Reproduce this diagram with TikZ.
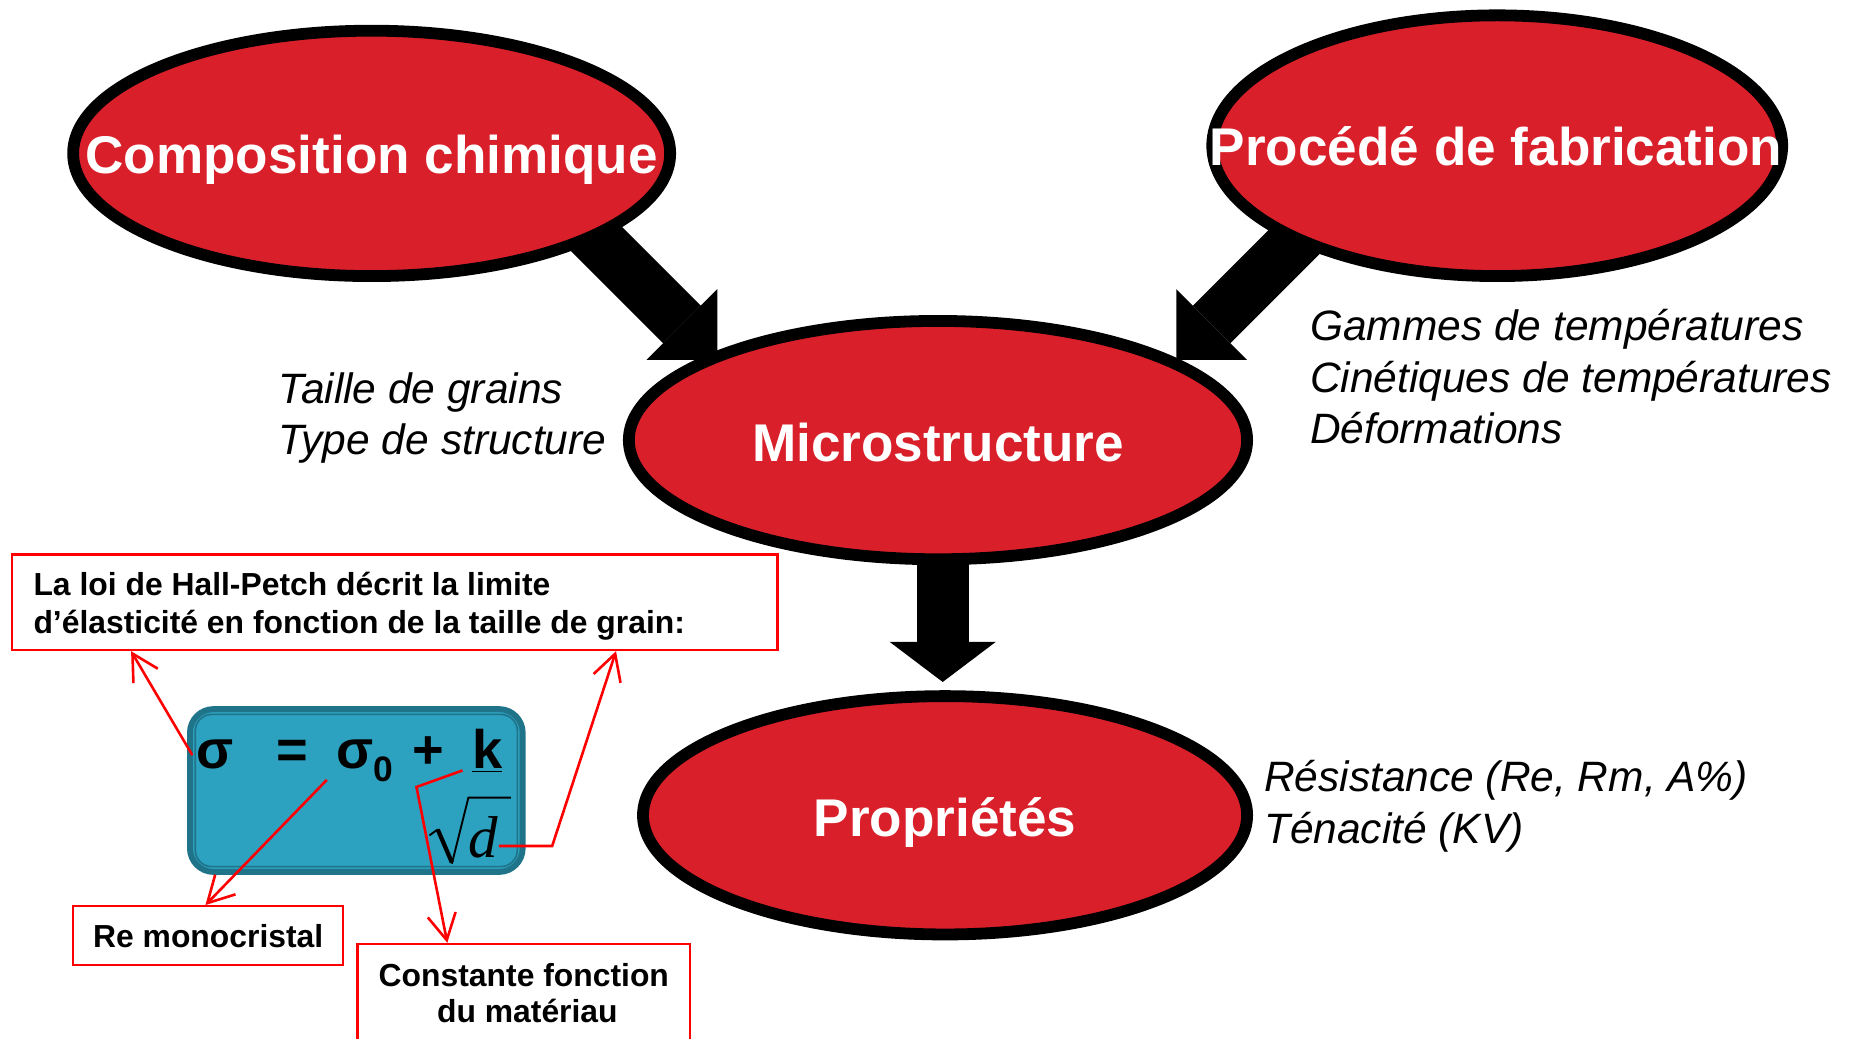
\documentclass[tikz,border=0pt]{standalone}
\usepackage{fontspec}
\setmainfont{Liberation Sans}
\newfontfamily\timesf{Liberation Serif}
\usetikzlibrary{shapes.geometric,arrows.meta,calc}
\definecolor{ered}{RGB}{217,31,41}
\definecolor{tealA}{RGB}{44,162,192}
\definecolor{tealB}{RGB}{31,116,138}
\begin{document}
\begin{tikzpicture}[x=0.5pt,y=-0.5pt,
  bubble/.style={ellipse,draw=black,fill=ered,line width=5pt,inner sep=0pt},
  btext/.style={text=white,font=\fontsize{22.5}{27}\selectfont\bfseries,anchor=base,inner sep=0pt},
  note/.style={font=\fontsize{18}{21.6}\selectfont\itshape,anchor=base west,inner sep=0pt},
  callbox/.style={draw=red,line width=0.9pt,inner sep=0pt},
  calltext/.style={font=\fontsize{13.5}{16}\selectfont\bfseries,inner sep=0pt},
  callout/.style={draw=red,line width=1.1pt,-{Straight Barb[length=11pt,width=12pt]}},
  bigarrow/.style={draw=black,line width=22.5pt,-{Triangle[length=21.2pt,width=42.4pt,line width=0pt]}},
  eq/.style={font=\fontsize{23}{27}\selectfont\bfseries,inner sep=0pt,anchor=base}
]
\useasboundingbox (0,0) rectangle (1568,880);

% big arrows (behind the ellipses)
\coordinate (a1s) at (470,167);
\coordinate (a1t) at (608,305);
\coordinate (a2s) at (1135,167);
\coordinate (a2t) at (997,305);
\coordinate (a3s) at (799,430);
\coordinate (a3t) at (799,578);
\draw[bigarrow] (a1s) -- (a1t);
\draw[bigarrow] (a2s) -- (a2t);
\draw[draw=black,line width=22pt,-{Triangle[length=17pt,width=45pt,line width=0pt]}] (a3s) -- (a3t);

% ellipses
\node[bubble,minimum width=253pt,minimum height=104pt] (e1) at (315,130) {};
\node[bubble,minimum width=241.5pt,minimum height=110.5pt] (e2) at (1269,123.5) {};
\node[bubble,minimum width=262pt,minimum height=101pt] (e3) at (795,373) {};
\node[bubble,minimum width=256pt,minimum height=101pt] (e4) at (801,691) {};
\node[btext] (t1) at (315,147) {Composition chimique};
\node[btext] (t2) at (1268,140) {Procédé de fabrication};
\node[btext] (t3) at (795,391) {Microstructure};
\node[btext] (t4) at (801,709) {Propriétés};

% side notes
\node[note] (n1) at (236,342) {Taille de grains};
\node[note] (n2) at (236,385) {Type de structure};
\node[note] (n3) at (1110,289) {Gammes de températures};
\node[note] (n4) at (1110,333) {Cinétiques de températures};
\node[note] (n5) at (1110,376) {Déformations};
\node[note] (n6) at (1071,671) {Résistance (Re, Rm, A\%)};
\node[note] (n7) at (1071,715) {Ténacité (KV)};

% Hall-Petch box
\node[callbox,minimum width=324.5pt,minimum height=40.5pt] (hp) at (334.5,510.5) {};
\node[calltext,anchor=base west] (hp1) at (28,505) {La loi de Hall-Petch décrit la limite};
\node[calltext,anchor=base west] (hp2) at (28,537) {d’élasticité en fonction de la taille de grain:};

% formula box
\node[draw=tealB,fill=tealA,line width=2.5pt,rounded corners=10pt,minimum width=141pt,minimum height=69pt,inner sep=0pt] (fb) at (302,670) {};
\draw[tealB,line width=0.7pt,rounded corners=7pt] ($(fb.south west)+(7,-7)$) rectangle ($(fb.north east)+(-7,7)$);
\node[eq] (sg) at (182,651) {σ};
\node[eq] (eqs) at (248,651) {=};
\node[eq] (sg0) at (309,651) {σ\raisebox{-5.5pt}{\fontsize{15}{15}\selectfont 0}};
\node[eq] (pl) at (363,651) {+};
\node[eq] (kk) at (413,651) {\underline{k}};
\node[inner sep=0pt,anchor=base,font=\timesf\itshape\fontsize{25}{25}\selectfont] (sd) at (410,727) {d};
\draw[black,line width=0.8pt,line join=miter] (364,708) -- (371,703);
\draw[black,line width=1.8pt] (371,703) -- (383,731);
\draw[black,line width=0.8pt] (383,732) -- (397,676) -- (433,676);

% other callout boxes
\node[callbox,minimum width=114.5pt,minimum height=25pt] (rm) at (176.5,793) {};
\node[calltext,anchor=base] (rmt) at (176.5,803) {Re monocristal};
\node[callbox,minimum width=141pt,minimum height=50pt] (cf) at (444,850) {};
\node[calltext,anchor=base] (cf1) at (444,836) {Constante fonction};
\node[calltext,anchor=base] (cf2) at (447,867) {du matériau};

% callout connectors
\coordinate (c1s) at (163,640);
\coordinate (c2s) at (277,661);
\coordinate (c3s) at (392,653);
\coordinate (c3m) at (353,667);
\coordinate (c4m) at (468,717);
\draw[callout] (c1s) -- ($(hp.south west)+(102,0)$);
\draw[callout] (c2s) -- ($(rm.north west)+(113,0)$);
\draw[callout] (c3s) -- (c3m) -- ($(cf.north west)+(77,0)$);
\draw[callout] (sd.east |- c4m) -- (c4m) -- ($(hp.south west)+(513,0)$);
\end{tikzpicture}
\end{document}
